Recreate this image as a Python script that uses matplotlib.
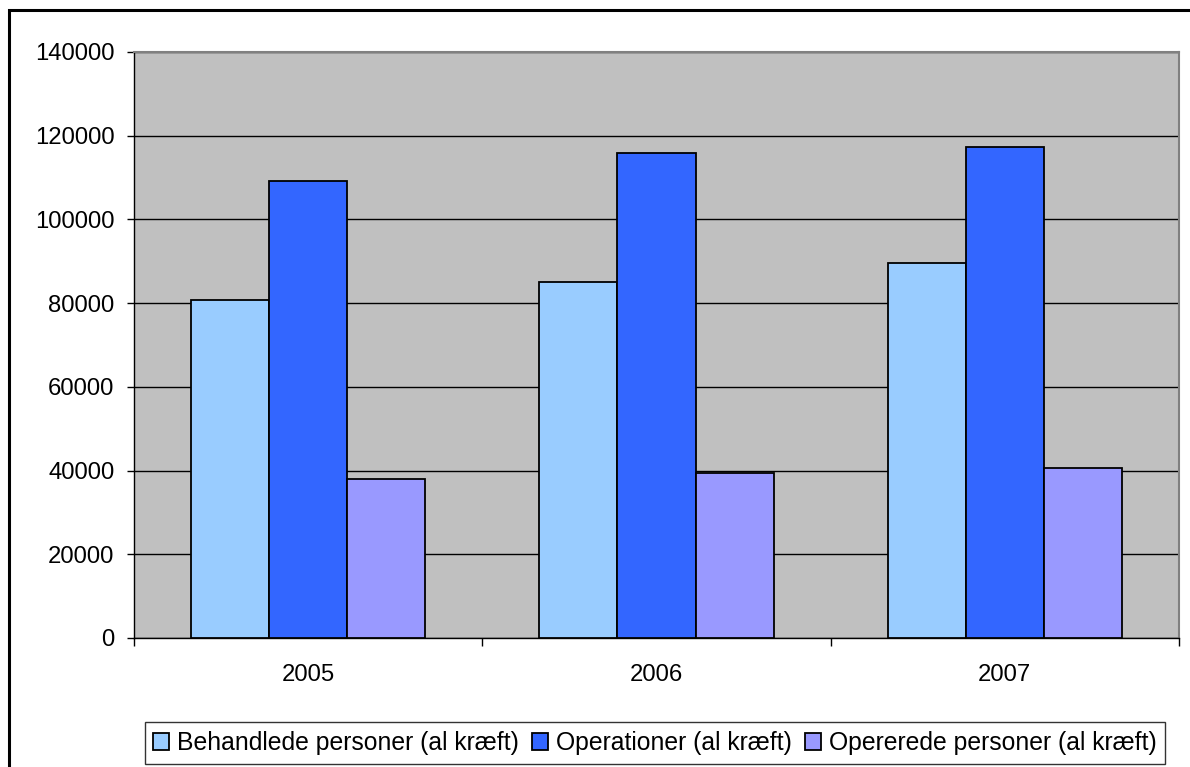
import matplotlib
matplotlib.use("Agg")
import matplotlib.pyplot as plt
from matplotlib.patches import Rectangle
import numpy as np

plt.rcParams['font.family'] = ['Liberation Sans', 'DejaVu Sans']

# data
years = ["2005", "2006", "2007"]
behandlede = [80800, 85000, 89700]
operationer = [109300, 115800, 117200]
opererede = [37900, 39500, 40700]
labels = ["Behandlede personer (al kræft)", "Operationer (al kræft)", "Opererede personer (al kræft)"]
colors = ["#99CCFF", "#3366FF", "#9999FF"]
yticks = [0, 20000, 40000, 60000, 80000, 100000, 120000, 140000]

W, H = 1190, 767
fig = plt.figure(figsize=(W / 100, H / 100), dpi=100)
fig.patch.set_facecolor("white")

ax = fig.add_axes([134 / W, (H - 638) / H, 1045 / W, (638 - 52) / H])
ax.set_facecolor("#C0C0C0")

x = np.arange(len(years))
bw = 0.224
series = [behandlede, operationer, opererede]
for i, (vals, lab, col) in enumerate(zip(series, labels, colors)):
    ax.bar(x + (i - 1) * bw, vals, width=bw, color=col, edgecolor="black",
           linewidth=1.3, label=lab, zorder=3)

ax.set_xlim(-0.5, 2.5)
ax.set_ylim(0, 140000)
ax.set_yticks(yticks)
ax.set_yticklabels([str(v) for v in yticks])
ax.yaxis.grid(True, color="black", linewidth=1.0, zorder=1)
ax.set_axisbelow(True)

# category boundaries get the tick marks, labels sit in the middle
ax.set_xticks([-0.5, 0.5, 1.5, 2.5])
ax.set_xticklabels([])
ax.set_xticks(x, minor=True)
ax.set_xticklabels(years, minor=True)
ax.tick_params(axis="x", which="major", direction="out", length=6, width=1, color="black")
ax.tick_params(axis="x", which="minor", length=0, pad=19, labelsize=17.2)
ax.tick_params(axis="y", direction="out", length=5, width=1, color="black", pad=9, labelsize=17.2)

for side in ["top", "right"]:
    ax.spines[side].set_color("#808080")
    ax.spines[side].set_linewidth(1.5)
ax.spines["left"].set_color("black")
ax.spines["bottom"].set_color("black")
ax.spines["left"].set_linewidth(1.0)
ax.spines["bottom"].set_linewidth(1.0)

leg = fig.legend(loc="center", bbox_to_anchor=(655 / W, 1 - 743 / H), ncol=3,
                 fontsize=17.8, frameon=True, fancybox=False, edgecolor="black",
                 handlelength=0.65, handleheight=0.65, handletextpad=0.3,
                 columnspacing=0.55, borderpad=0.35, borderaxespad=0)
leg.get_frame().set_linewidth(1.0)

fig.patches.append(Rectangle((9 / W, -0.1), 1.2, (H - 10) / H + 0.1,
                             transform=fig.transFigure, fill=False,
                             edgecolor="black", linewidth=2.2))

fig.savefig("out.png", dpi=100)
